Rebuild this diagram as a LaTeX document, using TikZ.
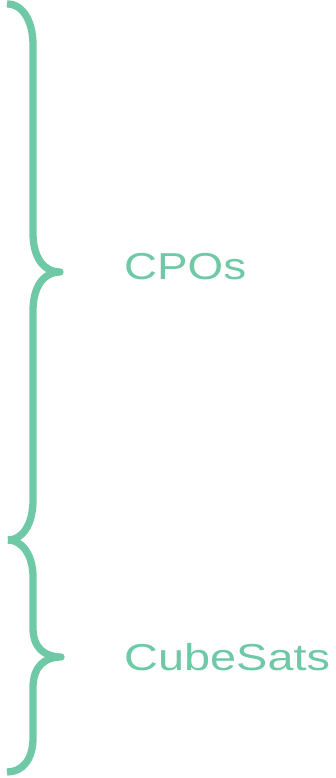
\documentclass[tikz,border=0pt]{standalone}
\usepackage{fontspec}
\setmainfont{Liberation Sans}
\definecolor{bracegreen}{HTML}{6FC9A7}
\begin{document}
\begin{tikzpicture}[x=1pt,y=-1pt,
  bracestroke/.style={draw=bracegreen,line width=7.3pt,line cap=butt,line join=round},
  grouplabel/.style={text=bracegreen,inner sep=0pt,anchor=base west,
    font=\fontsize{37.5}{45}\selectfont}]
\useasboundingbox (0,0) rectangle (335,778);
% upper brace (CPOs)
\draw[bracestroke] (7,3.8) .. controls (22,3.8) and (33,20) .. (33,45)
  -- (33,233) .. controls (33,258) and (44,272) .. (60,272)
  .. controls (44,272) and (33,286) .. (33,311)
  -- (33,500) .. controls (33,525) and (22,540) .. (8,540);
% lower brace (CubeSats)
\draw[bracestroke] (8,540) .. controls (22,540) and (33,555) .. (33,577)
  -- (33,628) .. controls (33,648) and (45,657) .. (61,657)
  .. controls (45,657) and (33,666) .. (33,688)
  -- (33,738) .. controls (33,760) and (22,772) .. (7,772);
\node[grouplabel] (cpos) at (124,279) {\scalebox{1.22}[1]{CPOs}};
\node[grouplabel] (cubesats) at (124,670) {\scalebox{1.25}[1]{CubeSats}};
\end{tikzpicture}
\end{document}
